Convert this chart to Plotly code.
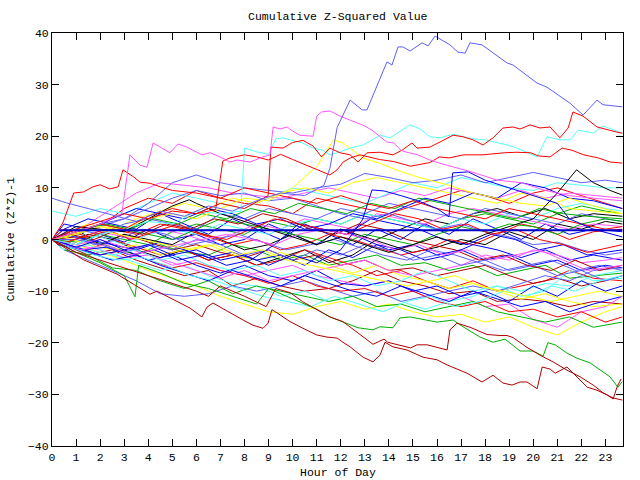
import plotly.graph_objects as go

# ---------------- data (hour of day, cumulative (Z*Z)-1) ----------------
HOUR_TICKS = list(range(24))
GRID_A = [0] + list(range(1, 24)) + [23.7]
GRID_B = [0] + [h + 0.5 for h in range(23)] + [23.7]
GRID_C = [0] + [h + 0.25 for h in range(23)] + [23.7]
GRID_D = [0] + [h + 0.75 for h in range(23)] + [23.7]

BB_h = [0,0.6,1.5,2.5,3.5,4.5,5.5,6.5,7.5,8.5,9.5,10.5,11.3,11.55,11.85,12.39,12.89,13.09,13.92,14.13,14.38,14.59,14.88,15.38,15.63,15.92,16.54,16.87,17.17,17.37,17.87,18.91,19.16,20.16,20.57,21.53,22.07,22.65,22.9,23.7]
BB_v = [8.0,7.1,6.0,4.8,3.5,5.5,4.5,6.5,5.5,7.5,9.0,8.5,10.5,13.8,21.7,27.0,25.1,25.1,34.4,33.8,37.3,37.3,36.5,38.1,37.5,39.4,37.7,36.3,36.1,38.1,37.7,34.2,33.8,30.3,29.5,26.4,24.1,27.0,26.1,25.7]

MT_h = [0,1,2,2.9,3.24,3.66,3.95,4.2,4.9,5.24,5.6,6.23,6.57,6.98,7.4,7.69,8.23,8.77,9.06,9.19,9.48,9.77,10.0,10.3,10.85,11.0,11.2,11.55,11.97,12.4,12.9,13.3,13.9,14.2,14.5,14.75,15.2,15.4,15.7,16.1,16.4,16.7,17.5,18.5,19.5,20.5,21.5,22.5,23.7]
MT_v = [0,1.5,3,5,16.4,14.4,14.0,18.7,16.8,18.5,17.9,16.4,16.8,16.0,15.0,15.4,15.0,16.0,16.4,21.8,21.4,21.8,21.0,20.2,20.0,23.9,24.7,24.9,23.9,23.1,22.2,21.2,18.9,18.7,17.3,16.9,16.4,16.0,15.4,14.8,14.4,14.0,13,11.5,11,9.5,8.5,8,7.5]

R1_h = [0,1,2,3,4,5,6,7,8,8.98,9.1,9.6,10.0,10.43,10.85,11.2,11.55,11.97,12.39,12.72,13.09,13.63,14.17,14.55,14.96,15.17,15.71,16.67,17.08,17.5,17.91,18.33,18.74,19.16,19.45,19.87,20.28,20.7,21.11,21.45,21.65,22.07,22.65,23.48,23.7]
R1_v = [0,1.5,3,2,4.5,6,5,7,6,8.5,17.9,17.7,18.8,19.2,18.1,16.0,17.7,16.8,16.4,15.0,16.8,16.9,16.4,17.3,18.7,17.7,17.9,20.2,19.9,19.3,18.3,19.7,21.6,21.8,21.4,22.2,21.6,21.8,19.7,21.6,24.7,23.9,21.8,20.8,20.6]

R2_h = [0,1,2,3,4,5,6,6.8,7.1,7.4,8,8.5,9,9.5,10,10.5,11,11.55,11.85,12.1,12.4,12.8,13.6,14.2,14.9,15.7,16.1,16.5,17.1,17.9,18.8,19.3,19.9,20.2,20.7,21.2,21.6,22.1,22.7,23.2,23.7]
R2_v = [0,2,3.5,5,4,5.5,5,5.8,15.2,15.8,16.4,16.0,15.4,16.5,15.5,14.5,13.5,12.5,13.5,15.0,15.8,16.4,15.5,15.1,14.2,14.9,16.0,15.8,16.4,16.4,16.8,16.9,16.8,16.2,16.0,17.7,17.3,16.4,15.8,15.0,14.8]

R3_h = [0,0.45,0.9,1.3,1.7,2.0,2.4,2.75,2.95,3.4,3.66,4.07,4.5,5,6,7,8,9,10,11,12,13,14,15,16,17,18,19,20,21,22,23,23.7]
R3_v = [0,3.2,9,9.2,10.2,10.6,9.8,10.2,13.5,12.1,11.1,10.9,10.2,9.5,9,8,10,9,8,7,8.5,7,6,7.5,6,5,4,6,5,4,3,2,2.5]

C1_h = [0,1,2,3,4,5,6,7,7.85,8.0,8.5,9.0,9.3,9.6,9.9,10.4,10.85,11.26,11.55,11.85,12.39,12.93,13.63,14.05,14.88,15.3,15.71,16.13,16.67,17.08,17.5,18.0,18.5,19.0,19.33,20.16,20.57,21.11,21.53,21.86,22.49,22.9,23.7]
C1_v = [0,-1,1,2,3.5,3,5.5,5,5.5,17.7,17.0,16.5,19.5,19.7,19.3,18.7,17.7,17.3,16.4,16.8,17.7,18.3,20.2,19.7,22.2,21.4,19.9,19.7,20.4,20.0,19.5,19.3,18.8,18.2,17.7,16.0,19.9,19.3,19.3,21.2,20.6,22.0,20.6]

DA_h = [0,1,2,3,4,5,6,6.5,7,8,8.9,9.3,9.9,10.4,11,11.55,12.09,13.34,13.8,13.95,14.9,15.17,15.59,16.42,16.54,16.83,17.37,18.08,18.62,18.91,19.16,19.74,20.28,20.82,21.4,21.95,22.49,22.9,23.32,23.7]
DA_v = [0,-2.5,-4,-5.5,-7,-8.5,-10,-11,-9,-11,-13,-9.5,-10.3,-12,-13.5,-15.0,-15.9,-20.3,-19.3,-19.9,-21.0,-20.4,-20.4,-21.4,-17.5,-16.2,-17.0,-18.4,-18.6,-18.6,-19.0,-20.9,-22.4,-23.7,-25.3,-26.6,-28.2,-29.7,-30.7,-31.1]

DB_h = [0,1.29,2.7,3.53,4.07,4.36,4.61,5.2,5.74,6.23,6.44,6.69,6.98,7.4,7.94,8.35,8.77,8.98,9.14,9.35,9.89,10.43,11.01,11.43,11.85,12.09,12.39,12.93,13.34,13.63,13.84,14.17,14.75,15.42,16.0,16.42,17.25,17.87,18.33,18.74,19.12,19.45,19.74,20.16,20.37,20.7,20.91,21.4,21.82,22.24,22.65,23.07,23.32,23.48,23.65]
DB_v = [0,-3.9,-6.7,-9.0,-10.6,-10.0,-10.6,-12.1,-13.3,-15.0,-13.1,-12.3,-13.1,-14.2,-15.6,-16.6,-17.2,-16.2,-13.6,-14.2,-15.9,-17.2,-18.5,-18.9,-19.1,-19.9,-20.8,-22.8,-23.7,-22.4,-19.9,-20.8,-21.4,-22.8,-23.3,-24.3,-25.9,-27.6,-26.3,-27.8,-28.2,-27.6,-27.6,-28.9,-24.7,-25.1,-25.9,-24.7,-26.6,-28.6,-29.2,-30.1,-30.9,-28.6,-27.0]

G1_h = [0,1,2,3,3.45,3.6,4.5,5.5,6.5,7.5,8.5,9.0,10,11,11.55,12.09,12.72,13.34,13.63,14.17,14.46,14.88,15.59,16.0,16.67,17.08,17.79,18.33,18.83,19.45,20.0,20.41,20.61,20.91,21.4,21.82,22.36,22.78,23.19,23.52,23.7]
G1_v = [0,-2.5,-4.5,-7,-11.1,-5,-6.5,-8.5,-9.5,-11,-12.5,-9.5,-11.5,-13.5,-15.0,-16.0,-17.1,-17.5,-16.9,-17.1,-15.2,-15.0,-15.6,-16.0,-15.6,-16.9,-18.9,-19.9,-19.3,-21.6,-21.6,-22.6,-20.0,-20.4,-22.0,-23.0,-23.9,-25.3,-26.6,-28.6,-27.5]

Y3_h = [0,1,2,3,4,5,6,7,8,9,9.6,10,10.7,11.0,11.7,12.09,12.39,12.9,13.6,14.3,15.2,15.7,16.5,17.5,18.5,19.5,20.5,21.5,22.5,23.7]
Y3_v = [0,1,2.5,2,4,5,4,6,8,7.5,9,10,12.9,14.1,19.3,18.7,17.7,15.8,14.8,13.5,12.1,11.5,10.5,9,8,7,6.5,8,6.5,5]

K1_h = [0,1,2,3,4,5,5.7,6,7,8,9,10,11,12,13,14,15,16,17,18,19,20,21,21.8,22.5,23.2,23.7]
K1_v = [0,2.5,2,1.5,4,6.5,7.7,7,5,3.5,2,0.5,-1,0.5,-1,-2.5,-1,0.5,-1,1,2.5,4,9,13.5,11,9.5,8.6]

B7_h = [0,1,2,3,4,5,6,7,8,9,10,11,12,12.9,13.3,13.8,14.5,15.2,16,16.5,16.65,17.3,18,19,20,21,21.5,22.5,23.7]
B7_v = [0,-1.5,0,-2,-1,-3,-2,-4,-3,-5,-3,-4.5,-2,3.8,9.6,9.4,8.5,7.5,6,4.4,12.9,13.1,11.5,10,8.5,7,4,2,0.5]

# band series on hourly grids
R4 = [0,1,2.5,6,8,7,9.5,8,7,6.5,5,8,7,6,5,6.5,8,9.5,8.5,7,9,10,8.5,7,6]
R5 = [0,-1,-2,0,-1.5,-3,-2,-4,-3,-5,-4,-2,-3.5,-5,-7,-6,-8,-9.5,-8,-10,-9,-8,-6,-7.5,-8]
R6 = [0,-1.5,-3,-2,-4,-5.5,-4.5,-6,-7,-8.5,-7,-9,-10,-9.5,-11,-10,-12,-13,-12,-14,-13.5,-15,-14,-16,-15]
R7 = [0,2,0.5,2,1,3,2,0.5,-1,0,-2,-1,1,0,-1.5,-3,-2,0,-1,1,3,2,0,1.5,2]
D3 = [0,-1,-3,-2,-4,-5.5,-7,-6,-9,-7.5,-9,-10,-9.5,-8,-6,-8,-9,-10.5,-10,-12,-11.5,-12,-13,-12,-12.5]
D4 = [0,0.5,-1,1,-0.5,-2,-1,-2.5,-3.5,-2,-4,-3,-5,-4,-6,-5.5,-7,-6,-5,-7,-8.5,-7.5,-9,-8,-7]
G2 = [0,1,0,-1.5,-3,-1,-2.5,-3,-1,-2,-4,-3,-5,-4,-3,-5,-4.5,-6,-5,-7,-6,-5,-7.5,-7,-6.5]
G3 = [0,-0.5,1,0,-1,1.5,3,2,1,3.5,2.5,4,3,5,4,3,2,4,5,4,3,5,6.5,5.5,5]
G4 = [0,-2,-3,-5.5,-6,-8,-9.5,-8,-10.5,-9,-10,-11,-12,-11,-13,-12.5,-14,-13,-12,-14,-15,-16,-15,-17,-16]
G5 = [0,1.5,3,2,1,0,2,4,3,2,1,0,-1,1,0,-1,1,2.5,1.5,3,2.5,1,3,4,3.5]
B1 = [0,-1,1,-0.5,2,0,1,-1,0,3,1,-1,2,0,-2,-1,-3,-2,-4,-3,-5,-4,-6,-5,-5.5]
B2 = [0,2,4,3,2,5,3,1,4,2,0,3,1,-1,2,0,3,1,4,2,0,3,1,2,1.5]
B3 = [0,-1.5,-3,-2,-4,-3,-5,-6.5,-5,-7,-8,-6,-8.5,-9,-8,-10,-9,-11,-10,-12,-9,-11,-8,-10,-9]
B4 = [0,1,0,-1,-2,-0.5,-2,-3.5,-2.5,-4,-3,-5,-2,-3.5,-1,-2,-4,-3,-1,-2,-3.5,-2,-4,-3,-4]
B5 = [0,3,2,4,6,5,4,6,5,3,4,2,3,5,4,6,8,7,9,8,11,10,8,7.5,6]
B6 = [0,-1,-2.5,-4,-3,-5,-6.5,-8,-6,-7.5,-9,-7,-8.5,-10,-11,-9,-10.5,-12,-10,-11.5,-13,-12,-14,-12.5,-11]
L2 = [0,1,2.5,4,7,11,12.5,11,10,9.5,9,10,10.7,12.8,12,11,11.5,12.5,11,12,13,12,11,11.5,11]
L3 = [0,-2,-4,-6,-8,-10.5,-11,-10.5,-9,-10,-9,-8,-9.5,-11,-10,-12,-11,-10,-9,-10,-8.5,-7,-8,-6,-5.5]
L4 = [0,2,1,3,4,3,2,5,4,6,5,4,6,5,7,6,5,4,6,5,4,3,5,4,3.5]
L5 = [0,0,-1,-2.5,-1,-2,0,-1,-3,-2,-4,-2,-3,-1,-2,-4,-3,-5,-4,-6,-5,-7,-6,-8,-7]
L6 = [0,1,3,4,6,8,9.5,8.5,9,7.5,8,6.5,5,4,5,3.5,2,3,1.5,0.5,-1,-0.5,-2,-3,-2.5]
C2 = [5.5,4.5,6,5,7,9,8,7,6,8,10,9,8,7,9,11,10,12,11,10,9.5,11,10.5,10,10]
C3 = [0,-1,-2,-3,-4.5,-6,-5,-7,-8.5,-9,-11,-10,-12,-11,-10,-12,-13.5,-12,-11,-9,-10,-8.5,-9,-7,-6]
C4 = [0,1,0.5,-1,1,2,1,3,2,1,3,4,3,5,4,3,2,4,3,5,4,6,7,6,5.5]
C5 = [0,-2,-1,-3,-2,-4,-3,-5,-6,-5,-7,-6,-8,-7,-9,-8,-6,-8,-10,-9,-11,-10,-6,-8,-7.5]
M2 = [0,1,3,6,9,11,10.5,10,9,8.5,8,9,10,9,8,9.5,8.5,10,9,8,9.5,8,9,8.5,8]
M3 = [0,-1,-2,-3.5,-3,-5,-4,-6,-7,-6,-5,-7,-8,-9,-8,-10,-12,-11,-13,-12.5,-15.5,-17,-14,-13,-11]
M4 = [0,0.5,2,1,0,2,1,-0.5,1,3,2,4,3,2,5,4,3,5,6,5,4,3,2,3,2.5]
M5 = [0,-1,0,-1.5,-3,-4.5,-6,-7.5,-6,-8,-7,-6,-5,-4,-6,-7,-6,-5,-3,-4,-2,-3,-4.5,-4,-3.5]
Y1 = [0,-1,-2.5,-4,-6,-7.5,-9,-11,-12.5,-14,-14.5,-13,-12,-13.5,-12.5,-14,-15,-14.5,-16,-15,-17,-18.5,-16,-14,-13]
Y2 = [0,1,3,2,4,5.5,7,6,8,7,9,10,9,11,12,11,10,9,8,7,9,8,6,5.5,5]
Y4 = [0,0.5,-1,-2,-1,-3,-2,-1,-3,-4,-2.5,-4,-5,-6.5,-5,-7,-8,-9.5,-8.5,-10,-11.5,-10.5,-12,-13,-12.5]
K2 = [0,-1,1,0,-2,-3.5,-2,-4,-3,-5,-3.5,-2,-4.5,-3,0,2,4,3,5,6,4.5,6,4,5,4.5]
K3 = [0,2,-1,1,0,-1,1.5,0,-2,-1,1,-1,2,0.5,-1,-2.5,-1.5,0,-1,1.5,0,3,2,3.5,3]
N1 = [0,-1,-2,-1.5,-3,-2,-4,-3,-5,-4,-1,3,2,1,4,3,2,0,-1,1,0,-2,-1,-3,-2]
N2 = [0,1,-1,0,2,1,-1,0,1,-0.5,-2,-1,0,-1.5,-3,-4,-2,-3,-4.5,-6,-5,-4,-6,-5,-6]
N3 = [0,-1,0.5,2,0,1.5,3,1,0,2,4,3,2,1,3,5,4,2,3,1,2,0,-1,-2.5,-1]
N4 = [0,-1.5,-3,-4,-3.5,-5,-7,-8,-9.5,-11,-12,-13,-11,-12.5,-14,-12,-11,-13,-12,-10,-11,-9,-10,-8,-7]
N5 = [0,0,2,3,2,4,3,5,4,6,5,7,6,5,7,6,8,7,6,5,4,6,5,4.5,4]
N6 = [0,1,0,2,1,3,2,4,3,5,4,2,1,3,2,0,-1,-2,-4,-3,-5,-6,-4,-6,-5]
N7 = [0,-0.5,-2,-1,-3,-2,-1,0,1,0,-1,1,2,1,0,-2,-1,-3,-2,-4,-3,-2,-4,-6,-5]
N8 = [0,1,2,1,0,-1,-2,-1,-3,-2,-4,-5,-6,-7,-8,-9,-8,-7,-9,-10,-11,-12,-11,-10,-11]

FLAT_h = [0.3, 23.7]
FLAT_v = [1.8, 1.8]

# ---------------- styles ----------------
RED, GREEN, BLUE, MAG = "#ff0000", "#00b000", "#0000ff", "#ff55ff"
CYAN, DRED, YEL, BLK, LBLUE = "#55ffff", "#b00000", "#ffff00", "#000000", "#5f5fff"

series = [
    (GRID_A, R4, RED), (GRID_B, G2, GREEN), (GRID_A, B1, BLUE), (GRID_B, M2, MAG),
    (GRID_A, C2, CYAN), (GRID_B, D3, DRED), (GRID_A, Y1, YEL), (GRID_B, K2, BLK),
    (GRID_A, L2, LBLUE), (GRID_B, R5, RED), (GRID_A, G3, GREEN), (GRID_B, B2, BLUE),
    (GRID_A, M3, MAG), (GRID_B, C3, CYAN), (GRID_A, D4, DRED), (GRID_B, Y2, YEL),
    (GRID_A, K3, BLK), (GRID_B, L3, LBLUE), (GRID_A, R6, RED), (GRID_B, G4, GREEN),
    (GRID_A, B3, BLUE), (GRID_B, M4, MAG), (GRID_A, C4, CYAN), (GRID_B, Y4, YEL),
    (GRID_A, L4, LBLUE), (GRID_B, R7, RED), (GRID_A, G5, GREEN), (GRID_B, B4, BLUE),
    (GRID_A, M5, MAG), (GRID_B, C5, CYAN), (GRID_A, L5, LBLUE), (GRID_B, B5, BLUE),
    (GRID_A, L6, LBLUE), (GRID_B, B6, BLUE),
    (GRID_C, N1, BLUE), (GRID_D, N2, LBLUE), (GRID_C, N3, RED), (GRID_D, N4, CYAN),
    (GRID_C, N5, GREEN), (GRID_D, N6, DRED), (GRID_C, N7, MAG), (GRID_D, N8, YEL),
    (R3_h, R3_v, RED), (Y3_h, Y3_v, YEL), (K1_h, K1_v, BLK), (B7_h, B7_v, BLUE),
    (G1_h, G1_v, GREEN), (DA_h, DA_v, DRED), (DB_h, DB_v, DRED),
    (C1_h, C1_v, CYAN), (R2_h, R2_v, RED), (R1_h, R1_v, RED),
    (MT_h, MT_v, MAG), (BB_h, BB_v, LBLUE),
]

fig = go.Figure()
for hx, vy, col in series:
    fig.add_trace(go.Scatter(x=hx, y=vy, mode="lines", line=dict(color=col, width=1),
                             hoverinfo="skip", showlegend=False))
fig.add_trace(go.Scatter(x=FLAT_h, y=FLAT_v, mode="lines", line=dict(color="#0000cc", width=2),
                         hoverinfo="skip", showlegend=False))

FONT = dict(family="Liberation Mono", size=11.5, color="black")

axis_common = dict(showline=True, linecolor="black", linewidth=1, mirror="ticks",
                   ticks="inside", ticklen=7, tickcolor="black", tickwidth=1,
                   showgrid=False, zeroline=False, tickfont=FONT)

fig.update_layout(
    width=640, height=480,
    margin=dict(l=52, r=17, t=33, b=34),
    paper_bgcolor="white", plot_bgcolor="white",
    xaxis=dict(range=[0, 23.73], tickvals=HOUR_TICKS,
               ticktext=[str(h) for h in HOUR_TICKS], **axis_common),
    yaxis=dict(range=[-40, 40], tickvals=list(range(-40, 41, 10)), **axis_common),
    annotations=[
        dict(text="Cumulative Z-Squared Value", xref="paper", yref="paper",
             x=0.5, y=1.041, xanchor="center", yanchor="middle", showarrow=False, font=FONT),
        dict(text="Hour of Day", xref="paper", yref="paper",
             x=0.5, y=-0.065, xanchor="center", yanchor="middle", showarrow=False, font=FONT),
        dict(text="Cumulative (Z*Z)-1", xref="paper", yref="paper", textangle=-90,
             x=-0.072, y=0.5, xanchor="center", yanchor="middle", showarrow=False, font=FONT),
    ],
)

fig.write_html("out.html")
